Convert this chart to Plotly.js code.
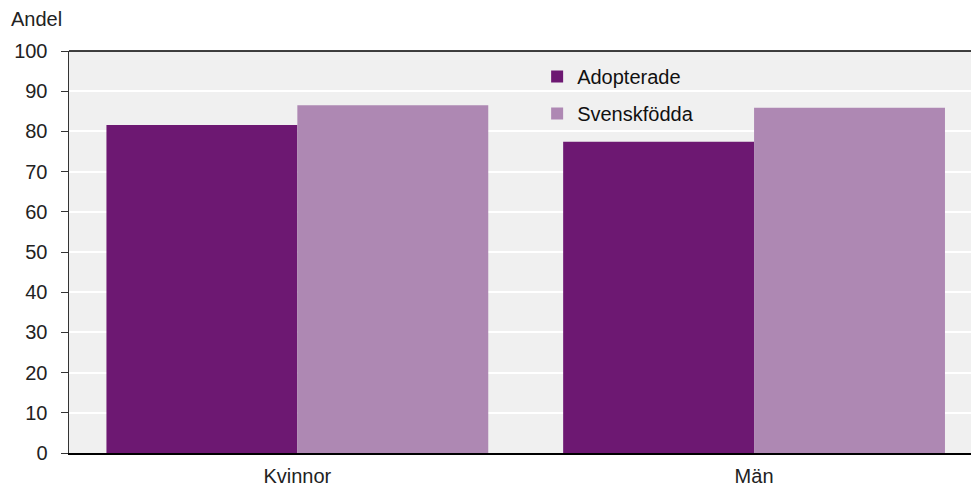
<!DOCTYPE html>
<html>
<head>
<meta charset="utf-8">
<script src="https://cdn.plot.ly/plotly-3.0.1.min.js"></script>
<style>html,body{margin:0;padding:0;background:#fff;}#chart{width:971px;height:486px;}</style>
</head>
<body>
<div id="chart"></div>
<script>
const categories = ["Kvinnor", "Män"];
const adopterade = [81.6, 77.4];
const svenskfodda = [86.5, 85.9];
const seriesNames = ["Adopterade", "Svenskfödda"];
const yTicks = [0, 10, 20, 30, 40, 50, 60, 70, 80, 90, 100];

const font = {family: "Liberation Sans, Arial, sans-serif", size: 20, color: "#222"};

const data = [
  {type: "bar", x: categories, y: adopterade, name: seriesNames[0], legendgroup: "a",
   marker: {color: "#6d1872", line: {width: 0}}, hoverinfo: "none"},
  {type: "bar", x: categories, y: svenskfodda, name: seriesNames[1], legendgroup: "b",
   marker: {color: "#ae88b3", line: {width: 0}}, hoverinfo: "none"}
];

const layout = {
  width: 971, height: 486,
  margin: {l: 69, r: 0, t: 51, b: 33},
  paper_bgcolor: "#ffffff",
  plot_bgcolor: "#f0f0f0",
  font: font,
  barmode: "group",
  bargap: 0.164,
  bargroupgap: 0,
  showlegend: true,
  legend: {x: 0.519, y: 0.985, xanchor: "left", yanchor: "top", bgcolor: "rgba(0,0,0,0)",
           font: {family: font.family, size: 20, color: "#111"}, traceorder: "grouped",
           tracegroupgap: 8, itemwidth: 30},
  xaxis: {range: [-0.5, 1.475], showline: true, linecolor: "#000", linewidth: 2,
          ticks: "", showgrid: false, zeroline: false, tickfont: font, fixedrange: true,
          automargin: false, ticklabelstandoff: 4},
  yaxis: {range: [0, 100], tickvals: yTicks, ticktext: yTicks.map(String),
          showline: true, linecolor: "#333", linewidth: 1.5, ticks: "outside", ticklen: 7,
          tickcolor: "#333", tickwidth: 1, showgrid: true, gridcolor: "#ffffff", gridwidth: 2,
          zeroline: false, tickfont: font, fixedrange: true, automargin: false,
          ticklabelstandoff: 9},
  shapes: [{type: "line", xref: "paper", yref: "paper", x0: 0, x1: 1, y0: 1, y1: 1,
            line: {color: "#000", width: 1.5}}],
  annotations: [{text: "Andel", xref: "paper", yref: "paper", x: 0, y: 1, xshift: -60, yshift: 19,
                 xanchor: "left", yanchor: "bottom", showarrow: false, font: font}]
};

Plotly.newPlot("chart", data, layout, {displayModeBar: false, staticPlot: true});
</script>
</body>
</html>
